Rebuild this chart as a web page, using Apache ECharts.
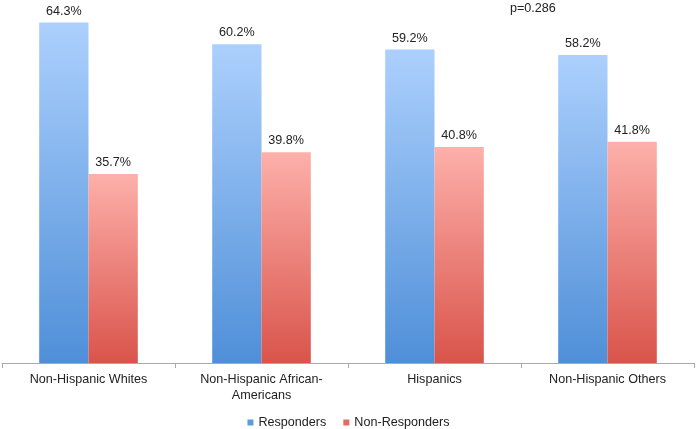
<!DOCTYPE html>
<html><head><meta charset="utf-8">
<script src="https://cdn.jsdelivr.net/npm/echarts@6/dist/echarts.min.js"></script>
<style>html,body{margin:0;padding:0;background:#fff}#c{width:697px;height:429px}</style>
</head><body><div id="c"></div>
<script>
var categories = ['Non-Hispanic Whites', 'Non-Hispanic African-\nAmericans', 'Hispanics', 'Non-Hispanic Others'];
var responders = [64.3, 60.2, 59.2, 58.2];
var nonResponders = [35.7, 39.8, 40.8, 41.8];
var pText = 'p=0.286';

var chart = echarts.init(document.getElementById('c'));
function grad(top, bottom) {
  return new echarts.graphic.LinearGradient(0, 0, 0, 1, [{offset: 0, color: top}, {offset: 1, color: bottom}]);
}
var font = 'Liberation Sans, Arial, Helvetica, sans-serif';
var fs = 12.6;
chart.setOption({
  animation: false,
  textStyle: {fontFamily: font},
  grid: {left: 2, right: 3, top: 3, bottom: 66, containLabel: false},
  title: {text: pText, left: 505, top: -3, textStyle: {fontSize: fs, fontWeight: 'normal', color: '#222', fontFamily: font}},
  legend: {
    top: 411, left: 'center', itemWidth: 6, itemHeight: 6, itemGap: 17, icon: 'rect',
    textStyle: {fontSize: fs, color: '#222', fontFamily: font},
    data: [{name: 'Responders', itemStyle: {color: '#5d9be0'}}, {name: 'Non-Responders', itemStyle: {color: '#e56a62'}}]
  },
  xAxis: {
    type: 'category', data: categories,
    axisLine: {lineStyle: {color: '#aaaaaa', width: 1}},
    axisTick: {show: true, length: 5, lineStyle: {color: '#aaaaaa'}},
    axisLabel: {fontSize: fs, color: '#222', margin: 9, lineHeight: 16, fontFamily: font}
  },
  yAxis: {type: 'value', min: 0, max: 68, show: false, splitLine: {show: false}},
  series: [
    {name: 'Responders', type: 'bar', data: responders, barGap: '0%', barCategoryGap: '43%',
     itemStyle: {color: grad('#acd0fd', '#4f8fd8')},
     label: {show: true, position: 'top', formatter: '{c}%', fontSize: fs, color: '#222', distance: 5, fontFamily: font}},
    {name: 'Non-Responders', type: 'bar', data: nonResponders,
     itemStyle: {color: grad('#fdb0aa', '#d9544b')},
     label: {show: true, position: 'top', formatter: '{c}%', fontSize: fs, color: '#222', distance: 5, fontFamily: font}}
  ]
});
</script></body></html>
